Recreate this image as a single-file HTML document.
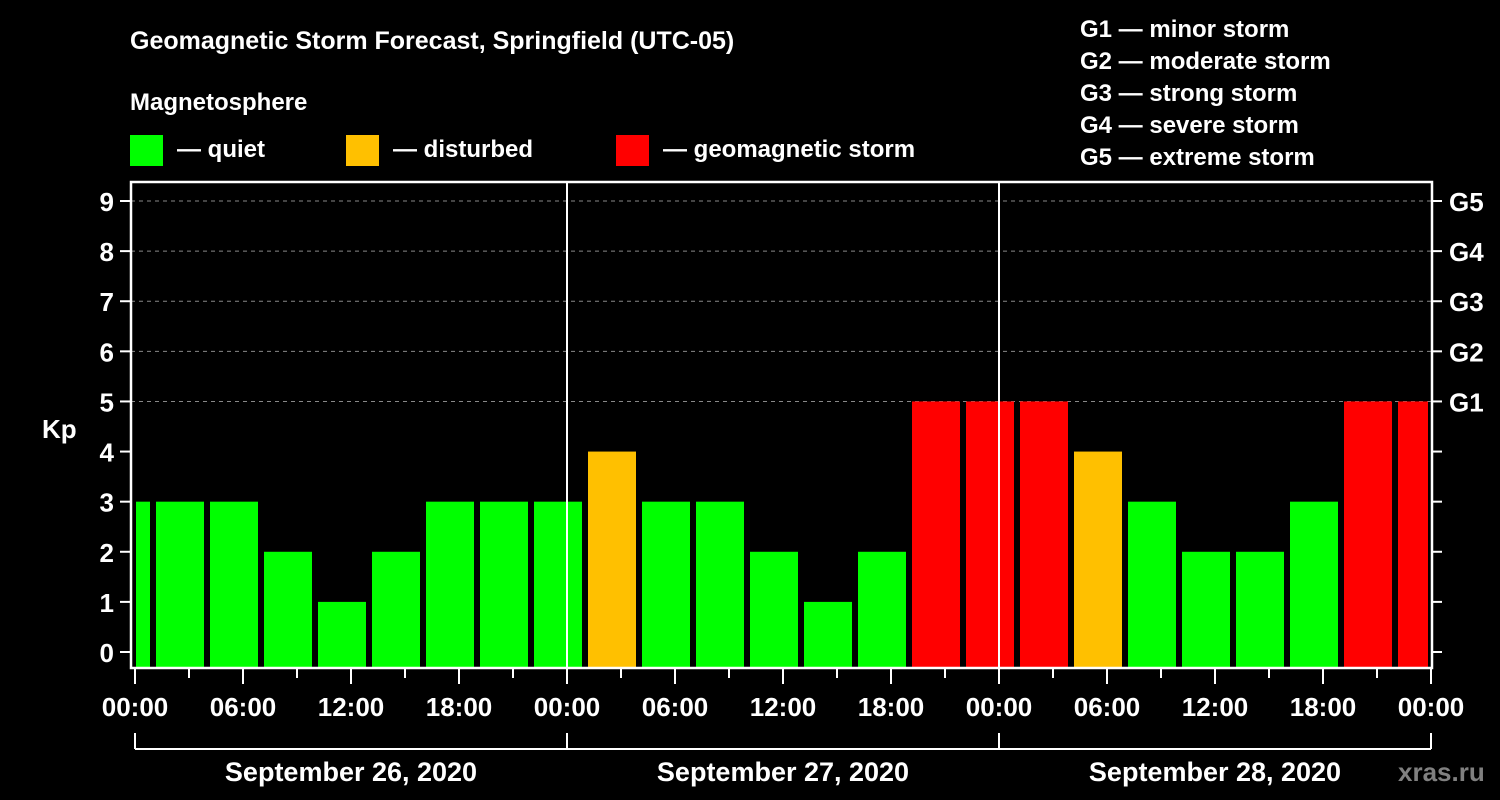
<!DOCTYPE html>
<html><head><meta charset="utf-8"><style>
body{margin:0;background:#000;}
svg{display:block;font-family:"Liberation Sans",Arial,sans-serif;font-weight:bold;}
</style></head><body>
<svg id="chart" width="1500" height="800" viewBox="0 0 1500 800">
<rect width="1500" height="800" fill="#000"/>
<text x="130" y="49" fill="#fff" font-size="25">Geomagnetic Storm Forecast, Springfield (UTC-05)</text>
<text x="130" y="110" fill="#fff" font-size="24">Magnetosphere</text>
<g><rect x="130" y="135" width="33" height="31" fill="#00ff00"/><text x="177" y="157" fill="#fff" font-size="24">— quiet</text></g>
<g><rect x="346" y="135" width="33" height="31" fill="#ffc000"/><text x="393" y="157" fill="#fff" font-size="24">— disturbed</text></g>
<g><rect x="616" y="135" width="33" height="31" fill="#ff0000"/><text x="663" y="157" fill="#fff" font-size="24">— geomagnetic storm</text></g>
<g fill="#fff" font-size="24">
<text x="1080" y="37">G1 — minor storm</text>
<text x="1080" y="69">G2 — moderate storm</text>
<text x="1080" y="101">G3 — strong storm</text>
<text x="1080" y="133">G4 — severe storm</text>
<text x="1080" y="165">G5 — extreme storm</text>
</g>
<text x="42" y="438" fill="#fff" font-size="26">Kp</text>
<g id="grid"></g><g id="bars"></g><g id="axes"></g>
<text x="1398" y="781" fill="#808080" font-size="26">xras.ru</text>
</svg>
<script>
const kpValues=[3,3,3,2,1,2,3,3,3,4,3,3,2,1,2,5,5,5,4,3,2,2,3,5,5];
const barHours=[-0.5,2.5,5.5,8.5,11.5,14.5,17.5,20.5,23.5,26.5,29.5,32.5,35.5,38.5,41.5,44.5,47.5,50.5,53.5,56.5,59.5,62.5,65.5,68.5,71.5];
const dayLabels=["September 26, 2020","September 27, 2020","September 28, 2020"];
const timeLabels=["00:00","06:00","12:00","18:00"];
const gLabels=["G1","G2","G3","G4","G5"];
const NS="http://www.w3.org/2000/svg";
const X0=135,PXH=18,L=131,R=1432,T=182,B=668;
const xs=h=>X0+h*PXH;
const ys=v=>652-v*50.11;
function mk(t,a,p){const e=document.createElementNS(NS,t);for(const k in a)e.setAttribute(k,a[k]);p.appendChild(e);return e;}
const grid=document.getElementById('grid'),bars=document.getElementById('bars'),axes=document.getElementById('axes');
for(let v=5;v<=9;v++){const g=mk('line',{x1:L,x2:R,y1:ys(v),y2:ys(v),stroke:'#888','stroke-dasharray':'4,4','stroke-width':1},grid);

}
kpValues.forEach((v,i)=>{
 let x1=Math.max(xs(barHours[i])-24,L+5),x2=Math.min(xs(barHours[i])+24,R-4);
 const c=v>=5?'#ff0000':(v>=4?'#ffc000':'#00ff00');
 const r=mk('rect',{x:x1,y:ys(v),width:x2-x1,height:B-ys(v),fill:c},bars);
 
 
});
for(let d=1;d<3;d++){const l=mk('line',{x1:xs(d*24),x2:xs(d*24),y1:T,y2:B,stroke:'#fff','stroke-width':2},axes);

}
const fr=mk('rect',{x:L,y:T,width:R-L,height:B-T,fill:'none',stroke:'#fff','stroke-width':2.5},axes);


for(let v=0;v<=9;v++){
 mk('line',{x1:120,x2:L,y1:ys(v),y2:ys(v),stroke:'#fff','stroke-width':2},axes);
 mk('line',{x1:R,x2:R+10,y1:ys(v),y2:ys(v),stroke:'#fff','stroke-width':2},axes);
 const t=mk('text',{x:114,y:ys(v)+10,fill:'#fff','font-size':26,'text-anchor':'end'},axes);t.textContent=v;
 
 
 if(v>=5){const g=mk('text',{x:1449,y:ys(v)+10,fill:'#fff','font-size':26},axes);g.textContent=gLabels[v-5];
 
 }
}
for(let h=0;h<=72;h+=3){
 const major=h%6===0;
 mk('line',{x1:xs(h),x2:xs(h),y1:B,y2:major?684:678,stroke:'#fff','stroke-width':2},axes);
 if(major){const t=mk('text',{x:xs(h),y:716,fill:'#fff','font-size':26,'text-anchor':'middle'},axes);
 t.textContent=h===72?timeLabels[0]:timeLabels[(h%24)/6];
 
 }
}
mk('line',{x1:xs(0),x2:xs(72),y1:749,y2:749,stroke:'#fff','stroke-width':2},axes);
for(let d=0;d<=3;d++)mk('line',{x1:xs(d*24),x2:xs(d*24),y1:733,y2:749,stroke:'#fff','stroke-width':2},axes);
dayLabels.forEach((s,d)=>{const t=mk('text',{x:xs(d*24+12),y:781,fill:'#fff','font-size':27,'text-anchor':'middle'},axes);t.textContent=s;

});
</script>
</body></html>
